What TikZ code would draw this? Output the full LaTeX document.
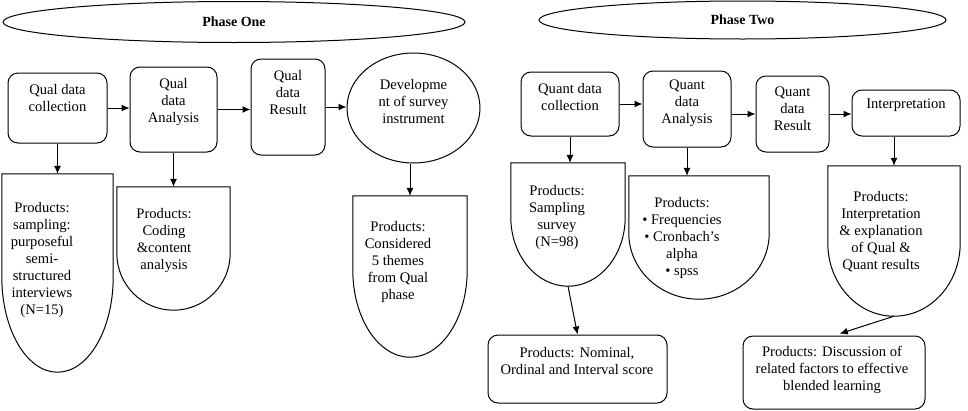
\documentclass[tikz,border=0pt]{standalone}
\usepackage{fontspec}
\setmainfont{Liberation Serif}
\usetikzlibrary{shapes.geometric,arrows.meta,calc}
\newcommand\prodshape[2]{\draw[line width=1pt] let \p1=(#1.north west), \p2=(#1.south east) in (\p1) -- (\x1,\y2+#2) arc[start angle=180,end angle=360,x radius={(\x2-\x1)/2},y radius=#2] -- (\x2,\y1) -- cycle;}
\begin{document}
\begin{tikzpicture}[x=1pt,y=-1pt,
  box/.style={draw, line width=1pt, rounded corners=10pt, inner sep=0pt},
  txt/.style={align=center, font=\rmfamily\fontsize{14.6}{17}\selectfont, inner sep=0pt},
  ell/.style={draw, ellipse, line width=1pt, inner sep=0pt, font=\rmfamily\fontsize{14}{17}\selectfont\bfseries},
  shp/.style={inner sep=0pt},
  arr/.style={-{Latex[length=8pt,width=7pt]}, line width=1pt}]
\useasboundingbox (0,0) rectangle (968,410);
% phase ellipses
\node[ell, minimum width=462pt, minimum height=41pt] (ph1) at (234,22) {Phase One};
\node[ell, minimum width=407pt, minimum height=38pt] (ph2) at (742.5,20) {Phase Two};
% phase one top row
\node[box, minimum width=99pt, minimum height=70pt] (qc) at (57.5,108) {};
\node[box, minimum width=87pt, minimum height=85pt] (qa) at (173.5,109.5) {};
\node[box, minimum width=74pt, minimum height=96pt] (qr) at (288,107) {};
\node[ell, minimum width=133pt, minimum height=110pt] (dev) at (413.5,108) {};
\node[txt] (qct) at (57.5,98) {Qual data\\collection};
\node[txt] (qat) at (173.5,102) {Qual\\data\\Analysis};
\node[txt] (qrt) at (288,93) {Qual\\data\\Result};
\node[txt] (devt) at (413.5,102) {Developme\\nt of survey\\instrument};
% phase two top row
\node[box, minimum width=98pt, minimum height=64pt] (nc) at (570,104) {};
\node[box, minimum width=88pt, minimum height=76pt] (na) at (687,109) {};
\node[box, minimum width=73pt, minimum height=76pt] (nr) at (792.5,114) {};
\node[box, minimum width=108pt, minimum height=46pt] (ip) at (906,113) {};
\node[txt] (nct) at (570,97) {Quant data\\collection};
\node[txt] (nat) at (687,103) {Quant\\data\\Analysis};
\node[txt] (nrt) at (792.5,109) {Quant\\data\\Result};
\node[txt] (ipt) at (906,105) {Interpretation};
% product shapes
\node[shp, minimum width=111pt, minimum height=198pt] (p1) at (57.5,273) {};
\prodshape{p1}{95pt}
\node[shp, minimum width=113pt, minimum height=123pt] (p2) at (173.5,248.5) {};
\prodshape{p2}{57pt}
\node[shp, minimum width=114pt, minimum height=161pt] (p3) at (410,276.5) {};
\prodshape{p3}{87pt}
\node[shp, minimum width=114pt, minimum height=123pt] (p4) at (568,224.5) {};
\prodshape{p4}{69pt}
\node[shp, minimum width=140pt, minimum height=123pt] (p5) at (699,237.5) {};
\prodshape{p5}{66pt}
\node[shp, minimum width=132pt, minimum height=150pt] (p6) at (894,241) {};
\prodshape{p6}{73pt}
\node[txt] (p1t) at (42,260) {Products:\\sampling:\\purposeful\\semi-\\structured\\interviews\\(N=15)};
\node[txt] (p2t) at (164,241) {Products:\\Coding\\\&content\\analysis};
\node[txt] (p3t) at (398,262) {Products:\\Considered\\5 themes\\from Qual\\phase};
\node[txt] (p4t) at (557,217) {Products:\\Sampling\\survey\\(N=98)};
\node[txt] (p5t) at (682,238) {Products:\\• Frequencies\\• Cronbach's\\alpha\\• spss};
\node[txt] (p6t) at (881,232) {Products:\\Interpretation\\\& explanation\\of Qual \&\\Quant results};
% bottom boxes
\node[box, minimum width=179pt, minimum height=68pt] (b1) at (577.5,369) {};
\node[box, minimum width=182pt, minimum height=73pt] (b2) at (834,372.5) {};
\node[txt] (b1t) at (577,361) {Products: Nominal,\\Ordinal and Interval score};
\node[txt] (b2t) at (832,370) {Products: Discussion of\\related factors to effective\\blended learning};
% connectors
\draw[arr] (qc.east) -- (qc.east -| qa.west);
\draw[arr] (qa.east) -- (qa.east -| qr.west);
\draw[arr] (qr.east) -- (qr.east -| dev.west);
\draw[arr] (nc.east) -- (nc.east -| na.west);
\draw[arr] (nr.west -| na.east) -- (nr.west);
\draw[arr] (nr.east) -- (nr.east -| ip.west);
\draw[arr] (qc.south) -- (qc.south |- p1.north);
\draw[arr] (qa.south) -- (qa.south |- p2.north);
\draw[arr] (p3.north |- dev.south) -- (p3.north);
\draw[arr] (nc.south) -- (nc.south |- p4.north);
\draw[arr] (na.south) -- (na.south |- p5.north);
\draw[arr] (p6.north |- ip.south) -- (p6.north);
\draw[arr] (p4.south) -- (b1.north);
\draw[arr, shorten >=6pt] (p6.south) -- (b2.north);
\end{tikzpicture}
\end{document}
